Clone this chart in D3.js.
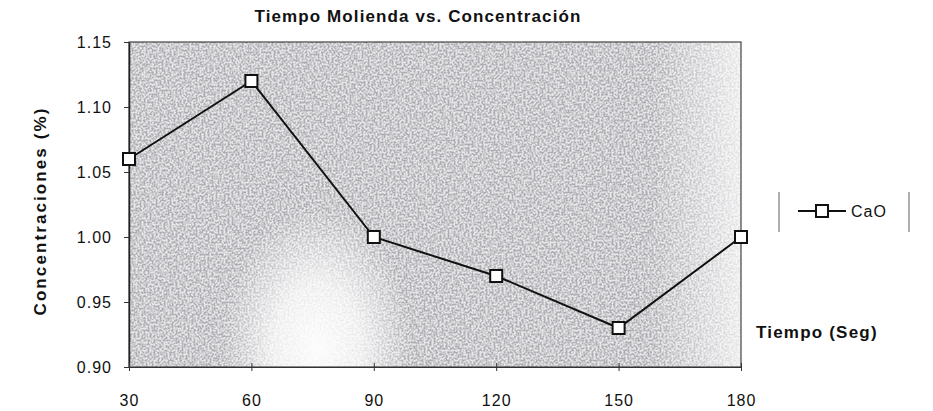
<!DOCTYPE html>
<html lang="es">
<head>
<meta charset="UTF-8" />
<title>Tiempo Molienda vs. Concentración</title>
<script src="https://d3js.org/d3.v7.min.js"></script>
<style>
  body { margin: 0; background: #fff; }
  text { font-family: Arial, "Liberation Sans", sans-serif; fill: #111; }
</style>
</head>
<body>
<div id="chart"></div>
<script>
var w = 933;
var h = 411;

// data
var tiempos = [30, 60, 90, 120, 150, 180];
var cao = [1.06, 1.12, 1.00, 0.97, 0.93, 1.00];
var yTicks = [0.90, 0.95, 1.00, 1.05, 1.10, 1.15];
var xTicks = [30, 60, 90, 120, 150, 180];
var serieNombre = "CaO";

var plot = { left: 129, right: 741, top: 42, bottom: 367 };

var svg = d3.select("#chart").append("svg")
    .attr("width", w)
    .attr("height", h);

var xScale = d3.scaleLinear().domain([30, 180]).range([plot.left, plot.right]);
var yScale = d3.scaleLinear().domain([0.90, 1.15]).range([plot.bottom, plot.top]);

// grainy grey background like the scanned original
var defs = svg.append("defs");
var grain = defs.append("filter").attr("id", "grain")
    .attr("x", 0).attr("y", 0).attr("width", "100%").attr("height", "100%");
grain.append("feTurbulence")
    .attr("type", "fractalNoise")
    .attr("baseFrequency", 0.5)
    .attr("numOctaves", 2)
    .attr("seed", 4)
    .attr("result", "noise");
grain.append("feColorMatrix")
    .attr("in", "noise")
    .attr("type", "matrix")
    .attr("values", "0 0 0 0 0.42  0 0 0 0 0.42  0 0 0 0 0.45  4.5 0 0 0 -1.8");

var wash = defs.append("radialGradient").attr("id", "wash")
    .attr("cx", 0.5).attr("cy", 0.5).attr("r", 0.5);
wash.append("stop").attr("offset", "0%").attr("stop-color", "#fff").attr("stop-opacity", 0.95);
wash.append("stop").attr("offset", "45%").attr("stop-color", "#fff").attr("stop-opacity", 0.75);
wash.append("stop").attr("offset", "100%").attr("stop-color", "#fff").attr("stop-opacity", 0);

var fade = defs.append("linearGradient").attr("id", "fade")
    .attr("x1", 0).attr("x2", 1).attr("y1", 0).attr("y2", 0);
fade.append("stop").attr("offset", "0%").attr("stop-color", "#fff").attr("stop-opacity", 0);
fade.append("stop").attr("offset", "100%").attr("stop-color", "#fff").attr("stop-opacity", 0.7);

defs.append("clipPath").attr("id", "clip").append("rect")
    .attr("x", plot.left).attr("y", plot.top)
    .attr("width", plot.right - plot.left).attr("height", plot.bottom - plot.top);

var bg = svg.append("g").attr("clip-path", "url(#clip)");
bg.append("rect")
    .attr("x", plot.left).attr("y", plot.top)
    .attr("width", plot.right - plot.left).attr("height", plot.bottom - plot.top)
    .attr("fill", "#e6e6e8");
bg.append("rect")
    .attr("x", plot.left).attr("y", plot.top)
    .attr("width", plot.right - plot.left).attr("height", plot.bottom - plot.top)
    .attr("filter", "url(#grain)");
// light patch low between 60 and 90, and fading right edge
bg.append("ellipse")
    .attr("cx", xScale(76)).attr("cy", yScale(0.915))
    .attr("rx", 95).attr("ry", 140)
    .attr("fill", "url(#wash)");
bg.append("rect")
    .attr("x", xScale(158)).attr("y", plot.top)
    .attr("width", plot.right - xScale(158)).attr("height", plot.bottom - plot.top)
    .attr("fill", "url(#fade)");

// plot frame
svg.append("rect")
    .attr("x", plot.left).attr("y", plot.top)
    .attr("width", plot.right - plot.left).attr("height", plot.bottom - plot.top)
    .attr("fill", "none")
    .attr("stroke", "#444")
    .attr("stroke-width", 1.2);

// axes
var yAxis = d3.axisLeft(yScale)
    .tickValues(yTicks)
    .tickFormat(d3.format(".2f"))
    .tickSizeInner(5)
    .tickSizeOuter(0)
    .tickPadding(12);

var xAxis = d3.axisBottom(xScale)
    .tickValues(xTicks)
    .tickFormat(d3.format("d"))
    .tickSizeInner(4)
    .tickSizeOuter(0)
    .tickPadding(24);

var gy = svg.append("g")
    .attr("transform", "translate(" + plot.left + ",0)")
    .call(yAxis);
gy.select(".domain").attr("stroke", "#222").attr("stroke-width", 1.5);
gy.selectAll(".tick line").attr("stroke", "#333");
gy.selectAll("text")
    .style("font-size", "16px")
    .style("letter-spacing", "1px")
    .attr("fill", "#111");

var gx = svg.append("g")
    .attr("transform", "translate(0," + plot.bottom + ")")
    .call(xAxis);
gx.select(".domain").attr("stroke", "#333").attr("stroke-width", 1.2);
gx.selectAll(".tick line").attr("y1", -4).attr("stroke", "#333");
gx.selectAll("text")
    .style("font-size", "16px")
    .style("letter-spacing", "1px")
    .attr("fill", "#111");

// series
var puntos = tiempos.map(function (t, i) { return { t: t, v: cao[i] }; });

var line = d3.line()
    .x(function (d) { return xScale(d.t); })
    .y(function (d) { return yScale(d.v); });

svg.append("path")
    .datum(puntos)
    .attr("d", line)
    .attr("fill", "none")
    .attr("stroke", "#111")
    .attr("stroke-width", 2);

var ms = 12;
svg.selectAll(".marker")
    .data(puntos)
    .enter()
    .append("rect")
    .attr("class", "marker")
    .attr("x", function (d) { return xScale(d.t) - ms / 2; })
    .attr("y", function (d) { return yScale(d.v) - ms / 2; })
    .attr("width", ms)
    .attr("height", ms)
    .attr("fill", "#fff")
    .attr("stroke", "#111")
    .attr("stroke-width", 2);

// titles
svg.append("text")
    .attr("x", 418)
    .attr("y", 22)
    .attr("text-anchor", "middle")
    .style("font-size", "17px")
    .style("font-weight", "bold")
    .style("letter-spacing", "1.1px")
    .text("Tiempo Molienda vs. Concentración");

svg.append("text")
    .attr("transform", "translate(46," + 211 + ") rotate(-90)")
    .attr("text-anchor", "middle")
    .style("font-size", "17px")
    .style("font-weight", "bold")
    .style("letter-spacing", "2.1px")
    .text("Concentraciones (%)");

svg.append("text")
    .attr("x", 756)
    .attr("y", 338)
    .style("font-size", "17px")
    .style("font-weight", "bold")
    .style("letter-spacing", "1.2px")
    .text("Tiempo (Seg)");

// legend
var legend = svg.append("g").attr("transform", "translate(779,192)");
legend.append("line")
    .attr("x1", 0).attr("x2", 0).attr("y1", 0).attr("y2", 40)
    .attr("stroke", "#777").attr("stroke-width", 1.2);
legend.append("line")
    .attr("x1", 130).attr("x2", 130).attr("y1", 0).attr("y2", 40)
    .attr("stroke", "#777").attr("stroke-width", 1.2);
legend.append("line")
    .attr("x1", 19).attr("x2", 67).attr("y1", 19).attr("y2", 19)
    .attr("stroke", "#111").attr("stroke-width", 2);
legend.append("rect")
    .attr("x", 37).attr("y", 13).attr("width", 12).attr("height", 12)
    .attr("fill", "#fff").attr("stroke", "#111").attr("stroke-width", 2);
legend.append("text")
    .attr("x", 72)
    .attr("y", 25)
    .style("font-size", "16px")
    .style("letter-spacing", "1px")
    .text(serieNombre);
</script>
</body>
</html>
